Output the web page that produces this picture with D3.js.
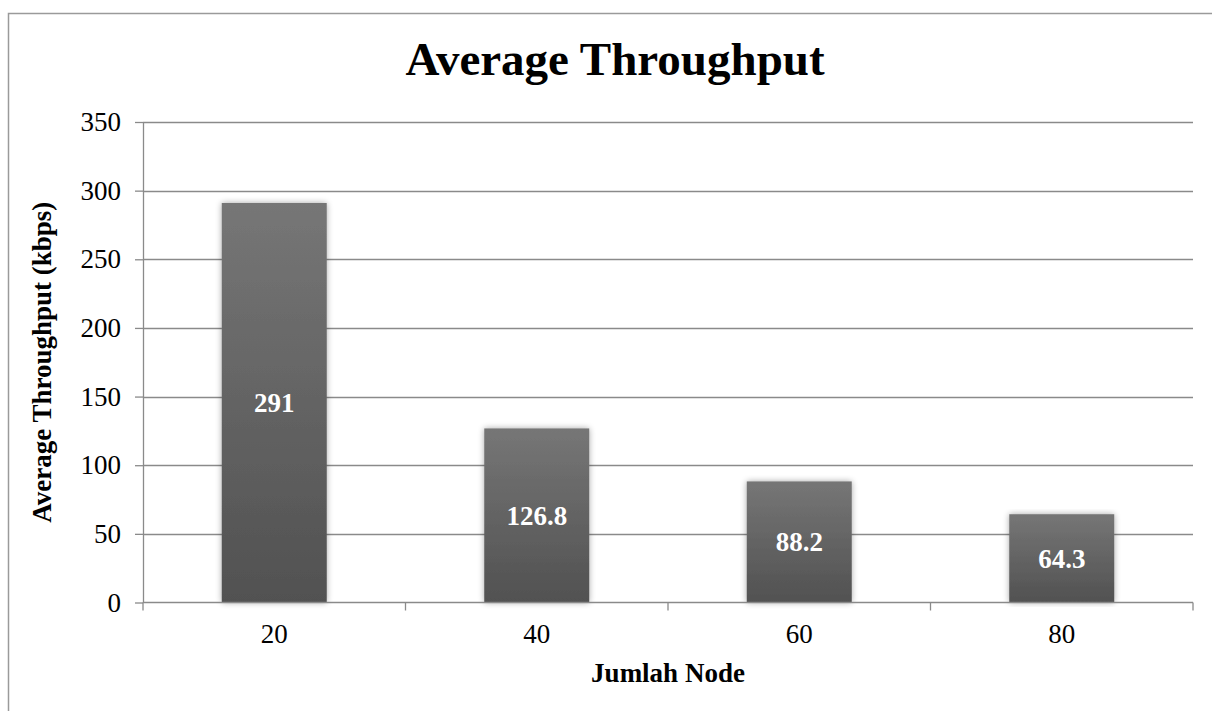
<!DOCTYPE html>
<html>
<head>
<meta charset="utf-8">
<script src="https://cdn.jsdelivr.net/npm/d3@7/dist/d3.min.js"></script>
<style>
  html, body { margin: 0; padding: 0; background: #fff; }
  svg { display: block; font-family: "Liberation Serif", "Times New Roman", serif; }
</style>
</head>
<body>
<svg id="chart" width="1212" height="711"></svg>
<script>
// Chart data
const categories = ["20", "40", "60", "80"];
const throughput = [291, 126.8, 88.2, 64.3];
const valueLabels = ["291", "126.8", "88.2", "64.3"];
const yTicks = [0, 50, 100, 150, 200, 250, 300, 350];

const svg = d3.select("#chart");
const W = 1212, H = 711;
const plot = { left: 143, right: 1193, top: 122, bottom: 602.5 };
const FONT = "'Liberation Serif', 'Times New Roman', serif";

// Outer chart frame
svg.append("rect")
  .attr("x", 8.5).attr("y", 13.5)
  .attr("width", W + 20).attr("height", H + 20)
  .attr("fill", "#fff").attr("stroke", "#9a9a9a").attr("stroke-width", 1.5);

const x = d3.scaleBand()
  .domain(categories)
  .range([plot.left, plot.right])
  .paddingInner(0.6)
  .paddingOuter(0.3);

const y = d3.scaleLinear()
  .domain([0, 350])
  .range([plot.bottom, plot.top]);

// Gradient and shadow for the bars
const defs = svg.append("defs");
const grad = defs.append("linearGradient")
  .attr("id", "barGrad").attr("x1", 0).attr("y1", 0).attr("x2", 0).attr("y2", 1);
grad.append("stop").attr("offset", "0%").attr("stop-color", "#767676");
grad.append("stop").attr("offset", "100%").attr("stop-color", "#515151");

const shadow = defs.append("filter").attr("id", "barShadow")
  .attr("x", "-20%").attr("y", "-5%").attr("width", "140%").attr("height", "110%");
shadow.append("feGaussianBlur").attr("in", "SourceAlpha").attr("stdDeviation", 3).attr("result", "blur");
shadow.append("feComponentTransfer").attr("in", "blur").attr("result", "soft")
  .append("feFuncA").attr("type", "linear").attr("slope", 0.35);
const merge = shadow.append("feMerge");
merge.append("feMergeNode").attr("in", "soft");
merge.append("feMergeNode").attr("in", "SourceGraphic");

// Horizontal gridlines
svg.append("g")
  .selectAll("line")
  .data(yTicks.filter(d => d > 0))
  .join("line")
  .attr("x1", plot.left).attr("x2", plot.right)
  .attr("y1", d => Math.round(y(d)) + 0.5).attr("y2", d => Math.round(y(d)) + 0.5)
  .attr("stroke", "#8a8a8a").attr("stroke-width", 1.3);

// Y axis
const yAxis = svg.append("g")
  .attr("transform", `translate(${plot.left},0)`)
  .call(d3.axisLeft(y).tickValues(yTicks).tickSize(8).tickPadding(14).tickSizeOuter(0));
yAxis.select(".domain").attr("stroke", "#8a8a8a").attr("stroke-width", 1.3);
yAxis.selectAll(".tick line").attr("stroke", "#8a8a8a").attr("stroke-width", 1.3);
yAxis.selectAll(".tick text")
  .attr("font-family", FONT)
  .attr("font-size", 27).attr("fill", "#000");

// Bars
svg.append("g")
  .selectAll("rect")
  .data(categories)
  .join("rect")
  .attr("x", d => x(d))
  .attr("y", (d, i) => y(throughput[i]))
  .attr("width", x.bandwidth())
  .attr("height", (d, i) => y(0) - y(throughput[i]))
  .attr("fill", "url(#barGrad)")
  .attr("filter", "url(#barShadow)");

// X axis line with ticks at category boundaries
const xAxisG = svg.append("g");
xAxisG.append("line")
  .attr("x1", plot.left).attr("x2", plot.right)
  .attr("y1", plot.bottom).attr("y2", plot.bottom)
  .attr("stroke", "#8a8a8a").attr("stroke-width", 1.3);
const step = x.step();
const boundaries = d3.range(categories.length + 1).map(i => plot.left + i * step);
xAxisG.selectAll("line.tk")
  .data(boundaries)
  .join("line").attr("class", "tk")
  .attr("x1", d => d).attr("x2", d => d)
  .attr("y1", plot.bottom).attr("y2", plot.bottom + 8)
  .attr("stroke", "#8a8a8a").attr("stroke-width", 1.3);
xAxisG.selectAll("text")
  .data(categories)
  .join("text")
  .attr("x", d => x(d) + x.bandwidth() / 2)
  .attr("y", 643)
  .attr("text-anchor", "middle")
  .attr("font-family", FONT)
  .attr("font-size", 27).attr("fill", "#000")
  .text(d => d);

// Value labels inside bars
svg.append("g")
  .selectAll("text")
  .data(categories)
  .join("text")
  .attr("x", d => x(d) + x.bandwidth() / 2)
  .attr("y", (d, i) => (y(throughput[i]) + y(0)) / 2)
  .attr("dy", "0.35em")
  .attr("text-anchor", "middle")
  .attr("font-family", FONT)
  .attr("font-size", 27).attr("font-weight", "bold").attr("fill", "#fff")
  .text((d, i) => valueLabels[i]);

// Title
svg.append("text")
  .attr("x", 615).attr("y", 75)
  .attr("text-anchor", "middle")
  .attr("font-family", FONT)
  .attr("font-size", 47).attr("font-weight", "bold").attr("fill", "#000")
  .text("Average Throughput");

// Axis titles
svg.append("text")
  .attr("x", (plot.left + plot.right) / 2).attr("y", 682)
  .attr("text-anchor", "middle")
  .attr("font-family", FONT)
  .attr("font-size", 27).attr("font-weight", "bold").attr("fill", "#000")
  .text("Jumlah Node");

svg.append("text")
  .attr("transform", `translate(51,${(plot.top + plot.bottom) / 2}) rotate(-90)`)
  .attr("text-anchor", "middle")
  .attr("font-family", FONT)
  .attr("font-size", 27).attr("font-weight", "bold").attr("fill", "#000")
  .text("Average Throughput (kbps)");
</script>
</body>
</html>
